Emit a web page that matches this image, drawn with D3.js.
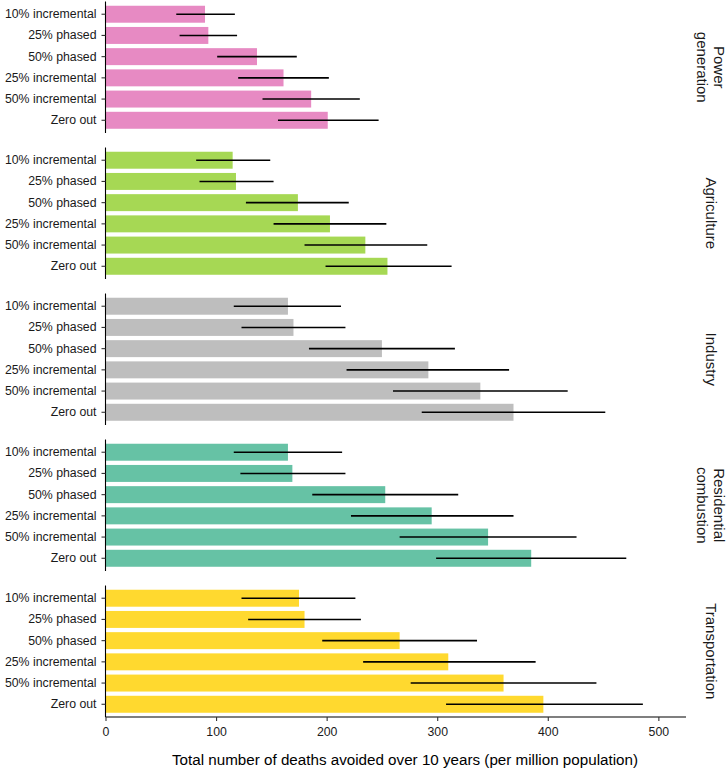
<!DOCTYPE html>
<html><head><meta charset="utf-8">
<script src="https://cdn.jsdelivr.net/npm/d3@7"></script>
<style>body{margin:0;background:#fff}svg{display:block}text{font-family:"Liberation Sans",Arial,Helvetica,sans-serif}</style>
</head><body>
<svg id="c" width="728" height="769"></svg>
<script>
const sectors = ["Power\ngeneration","Agriculture","Industry","Residential\ncombustion","Transportation"];
const colors = ["#e78ac3","#a6d854","#bebebe","#66c2a5","#ffd92f"];
const scenarios = ["10% incremental","25% phased","50% phased","25% incremental","50% incremental","Zero out"];
// values per sector (in scenario order)
const power_mean = [90, 93, 137, 161, 186, 201];
const power_lo   = [64, 67, 101, 120, 142, 156];
const power_hi   = [117, 119, 173, 202, 230, 247];
const agri_mean = [115, 118, 174, 203, 235, 255];
const agri_lo   = [82, 85, 127, 152, 180, 199];
const agri_hi   = [149, 152, 220, 254, 291, 313];
const ind_mean = [165, 170, 250, 292, 339, 369];
const ind_lo   = [116, 123, 184, 218, 260, 286];
const ind_hi   = [213, 217, 316, 365, 418, 452];
const res_mean = [165, 169, 253, 295, 346, 385];
const res_lo   = [116, 122, 187, 222, 266, 299];
const res_hi   = [214, 217, 319, 369, 426, 471];
const tra_mean = [175, 180, 266, 310, 360, 396];
const tra_lo   = [123, 129, 196, 233, 276, 308];
const tra_hi   = [226, 231, 336, 389, 444, 486];
const xTicks = [0, 100, 200, 300, 400, 500];
const xTitle = "Total number of deaths avoided over 10 years (per million population)";

const means = [power_mean, agri_mean, ind_mean, res_mean, tra_mean];
const los = [power_lo, agri_lo, ind_lo, res_lo, tra_lo];
const his = [power_hi, agri_hi, ind_hi, res_hi, tra_hi];

const svg = d3.select("#c");
const x = d3.scaleLinear().domain([0, 525]).range([105.5, 686]);
const panel = d3.scaleBand().domain(sectors).range([1.5, 717]).paddingInner(0.0993).paddingOuter(0);

sectors.forEach((s, i) => {
  const top = panel(s), h = panel.bandwidth();
  const y = d3.scaleBand().domain(scenarios).range([top, top + h]).paddingInner(0.2).paddingOuter(0.2);
  const g = svg.append("g");
  const rows = scenarios.map((c, j) => ({c, m: means[i][j], lo: los[i][j], hi: his[i][j]}));
  g.selectAll("rect").data(rows).join("rect")
    .attr("x", x(0)).attr("y", d => y(d.c))
    .attr("width", d => x(d.m) - x(0)).attr("height", y.bandwidth())
    .attr("fill", colors[i]);
  g.selectAll("line.err").data(rows).join("line").attr("class","err")
    .attr("x1", d => x(d.lo)).attr("x2", d => x(d.hi))
    .attr("y1", d => y(d.c) + y.bandwidth()/2).attr("y2", d => y(d.c) + y.bandwidth()/2)
    .attr("stroke", "#000").attr("stroke-width", 1.6);
  const ax = svg.append("g").attr("transform", `translate(${x(0)},0)`)
    .call(d3.axisLeft(y).tickSize(4).tickPadding(5));
  ax.select(".domain").attr("d", `M0,${top}V${top + h}`).attr("stroke", "#000").attr("stroke-width", 1.1);
  ax.selectAll(".tick line").attr("stroke", "#333").attr("stroke-width", 1.1);
  ax.selectAll(".tick text").attr("font-size", 12.3).attr("fill", "#1a1a1a").attr("font-family", '"Liberation Sans",Arial,sans-serif');
  // strip label
  const lines = s.split("\n");
  const cy = top + h / 2;
  const st = svg.append("text").attr("transform", `translate(711,${cy}) rotate(90)`)
    .attr("text-anchor", "middle").attr("font-size", 15).attr("fill", "#1a1a1a");
  lines.forEach((ln, k) => {
    st.append("tspan").attr("x", 0)
      .attr("y", (k - (lines.length - 1) / 2) * 17 + 5.5).text(ln);
  });
});

const bx = svg.append("g").attr("transform", "translate(0,717)")
  .call(d3.axisBottom(x).tickValues(xTicks).tickSize(4).tickPadding(6));
bx.select(".domain").attr("d", `M${x(0)},0H686`).attr("stroke", "#000").attr("stroke-width", 1.1);
bx.selectAll(".tick line").attr("stroke", "#333").attr("stroke-width", 1.1);
bx.selectAll(".tick text").attr("font-size", 12.3).attr("fill", "#1a1a1a").attr("font-family", '"Liberation Sans",Arial,sans-serif');

svg.append("text").attr("x", 405).attr("y", 765).attr("text-anchor", "middle")
  .attr("font-size", 15.2).attr("fill", "#000").text(xTitle);
</script>
</body></html>
